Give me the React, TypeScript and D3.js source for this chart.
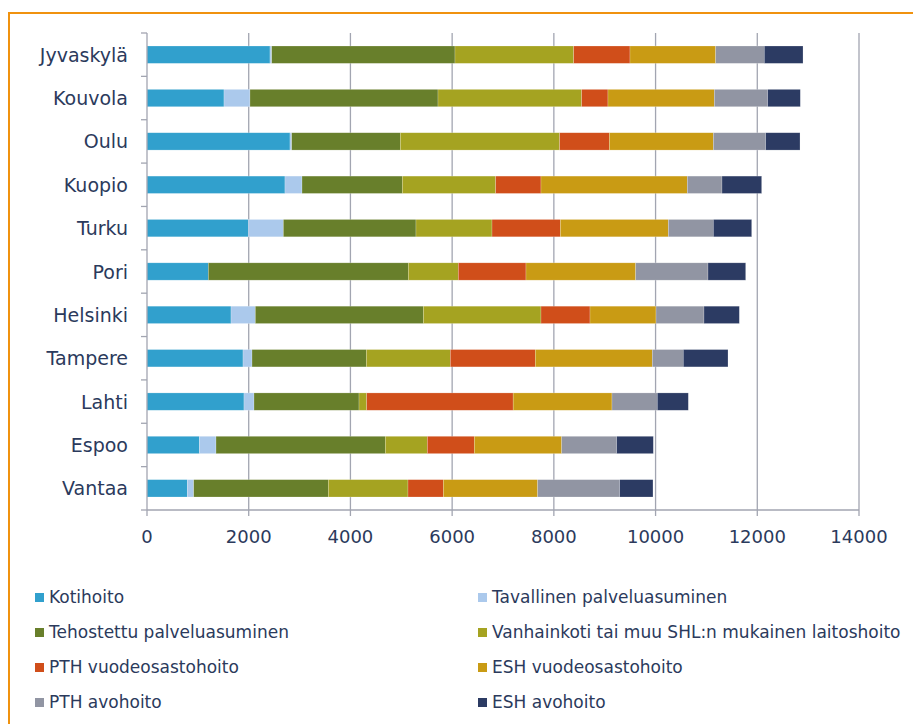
import React from "react";
import * as d3 from "d3";

const cities = ["Jyvaskylä", "Kouvola", "Oulu", "Kuopio", "Turku", "Pori", "Helsinki", "Tampere", "Lahti", "Espoo", "Vantaa"];
const seriesNames = [
  "Kotihoito",
  "Tavallinen palveluasuminen",
  "Tehostettu palveluasuminen",
  "Vanhainkoti tai muu SHL:n mukainen laitoshoito",
  "PTH vuodeosastohoito",
  "ESH vuodeosastohoito",
  "PTH avohoito",
  "ESH avohoito",
];
const colors = ["#31A0CD", "#ABC9EC", "#687F2B", "#A5A321", "#D04E1A", "#C99B14", "#9195A3", "#2C3B63"];

const kotihoito = [2419, 1514, 2812, 2713, 1993, 1206, 1652, 1888, 1907, 1029, 793];
const tavallinen = [33, 511, 33, 335, 688, 0, 478, 177, 197, 328, 125];
const tehostettu = [3604, 3697, 2136, 1972, 2608, 3932, 3304, 2248, 2065, 3329, 2647];
const vanhainkoti = [2334, 2825, 3133, 1836, 1495, 983, 2313, 1651, 151, 826, 1567];
const pthVuode = [1107, 517, 977, 891, 1344, 1331, 964, 1671, 2880, 924, 695];
const eshVuode = [1685, 2091, 2045, 2877, 2124, 2157, 1298, 2301, 1943, 1718, 1855];
const pthAvo = [956, 1049, 1029, 682, 884, 1422, 943, 609, 891, 1081, 1612];
const eshAvo = [761, 642, 675, 780, 754, 741, 695, 879, 610, 721, 655];
const xTicks = [0, 2000, 4000, 6000, 8000, 10000, 12000, 14000];

const seriesValues = [kotihoito, tavallinen, tehostettu, vanhainkoti, pthVuode, eshVuode, pthAvo, eshAvo];

export default function App() {
  const W = 913, H = 724;
  const left = 147, right = 859, top = 33, bottom = 510;
  const x = d3.scaleLinear().domain([0, 14000]).range([left, right]);
  const y = d3.scaleBand().domain(cities).range([top, bottom]).paddingInner(0.6).paddingOuter(0.3);

  const rows = cities.map((c, i) => {
    const r: any = { city: c };
    seriesNames.forEach((s, j) => (r[s] = seriesValues[j][i]));
    return r;
  });
  const stacked = d3.stack().keys(seriesNames)(rows);

  const font = "'DejaVu Sans', Verdana, sans-serif";
  const textColor = "#2B3A5C";
  const gridColor = "#A2A5B1";
  const step = y.step();

  return (
    <svg width={W} height={H} style={{ position: "absolute", left: 0, top: 0, background: "#fff" }}>
      <rect x={0} y={0} width={W} height={H} fill="#fff" />
      <path d={`M9,${H} L9,13 L${W},13`} fill="none" stroke="#F0920F" strokeWidth={2} />
      {/* gridlines */}
      {xTicks.slice(1).map((t) => (
        <line key={t} x1={x(t)} x2={x(t)} y1={top} y2={bottom} stroke={gridColor} strokeWidth={1.3} />
      ))}
      {/* bars */}
      {stacked.map((s, j) => (
        <g key={s.key} fill={colors[j]}>
          {s.map((d, i) => (
            <rect
              key={i}
              x={x(d[0])}
              y={y(cities[i])!}
              width={Math.max(0, x(d[1]) - x(d[0]))}
              height={y.bandwidth()}
              stroke="#ffffff"
              strokeOpacity={0.35}
              strokeWidth={0.6}
            />
          ))}
        </g>
      ))}
      {/* axes */}
      <line x1={left} x2={left} y1={top} y2={bottom} stroke={gridColor} strokeWidth={1.3} />
      <line x1={left} x2={right} y1={bottom} y2={bottom} stroke={gridColor} strokeWidth={1.3} />
      {d3.range(cities.length + 1).map((k) => (
        <line key={k} x1={left - 6} x2={left} y1={top + k * step} y2={top + k * step} stroke={gridColor} strokeWidth={1.3} />
      ))}
      {xTicks.map((t) => (
        <g key={t}>
          <line x1={x(t)} x2={x(t)} y1={bottom} y2={bottom + 6} stroke={gridColor} strokeWidth={1.3} />
          <text x={x(t)} y={bottom + 33} textAnchor="middle" fontFamily={font} fontSize={18} fill={textColor}>
            {t}
          </text>
        </g>
      ))}
      {cities.map((c) => (
        <text key={c} x={128} y={y(c)! + y.bandwidth() / 2 + 7} textAnchor="end" fontFamily={font} fontSize={19} fill={textColor}>
          {c}
        </text>
      ))}
      {/* legend */}
      {seriesNames.map((s, j) => {
        const col = j % 2;
        const row = Math.floor(j / 2);
        const lx = col === 0 ? 35 : 478;
        const ly = 597 + row * 35;
        return (
          <g key={s}>
            <rect x={lx} y={ly - 4} width={9} height={9} fill={colors[j]} />
            <text x={lx + 14} y={ly + 6} fontFamily={font} fontSize={17} fill={textColor}>
              {s}
            </text>
          </g>
        );
      })}
    </svg>
  );
}
